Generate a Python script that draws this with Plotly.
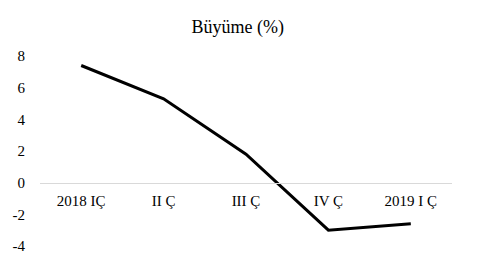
import plotly.graph_objects as go

categories = ["2018 IÇ", "II Ç", "III Ç", "IV Ç", "2019 I Ç"]
growth = [7.4, 5.3, 1.8, -3.0, -2.6]
y_ticks = [-4, -2, 0, 2, 4, 6, 8]
y_tick_labels = ["-4", "-2", "0", "2", "4", "6", "8"]

font = "Liberation Serif"

fig = go.Figure(go.Scatter(
    x=categories, y=growth, mode="lines",
    line=dict(color="#000000", width=3),
))

fig.update_layout(
    width=492, height=271,
    margin=dict(l=40, r=40, t=56, b=25),
    paper_bgcolor="white", plot_bgcolor="white",
    showlegend=False,
    font=dict(family=font, size=15, color="#000000"),
    title=dict(text="Büyüme (%)", x=0.483, xanchor="center", y=0.9, yanchor="middle",
               font=dict(family=font, size=18, color="#000000")),
    xaxis=dict(
        type="category", anchor="free", position=1/3,
        showline=True, linecolor="#d9d9d9", linewidth=1,
        showgrid=False, ticks="", range=[-0.5, 4.5],
        tickfont=dict(family=font, size=15), ticklabelstandoff=4,
    ),
    yaxis=dict(
        range=[-4, 8], tickvals=y_ticks, ticktext=y_tick_labels,
        showgrid=False, zeroline=False,
        showline=False, ticks="", ticklabelstandoff=14,
        tickfont=dict(family=font, size=15),
    ),
)

fig.write_html("out.html")
